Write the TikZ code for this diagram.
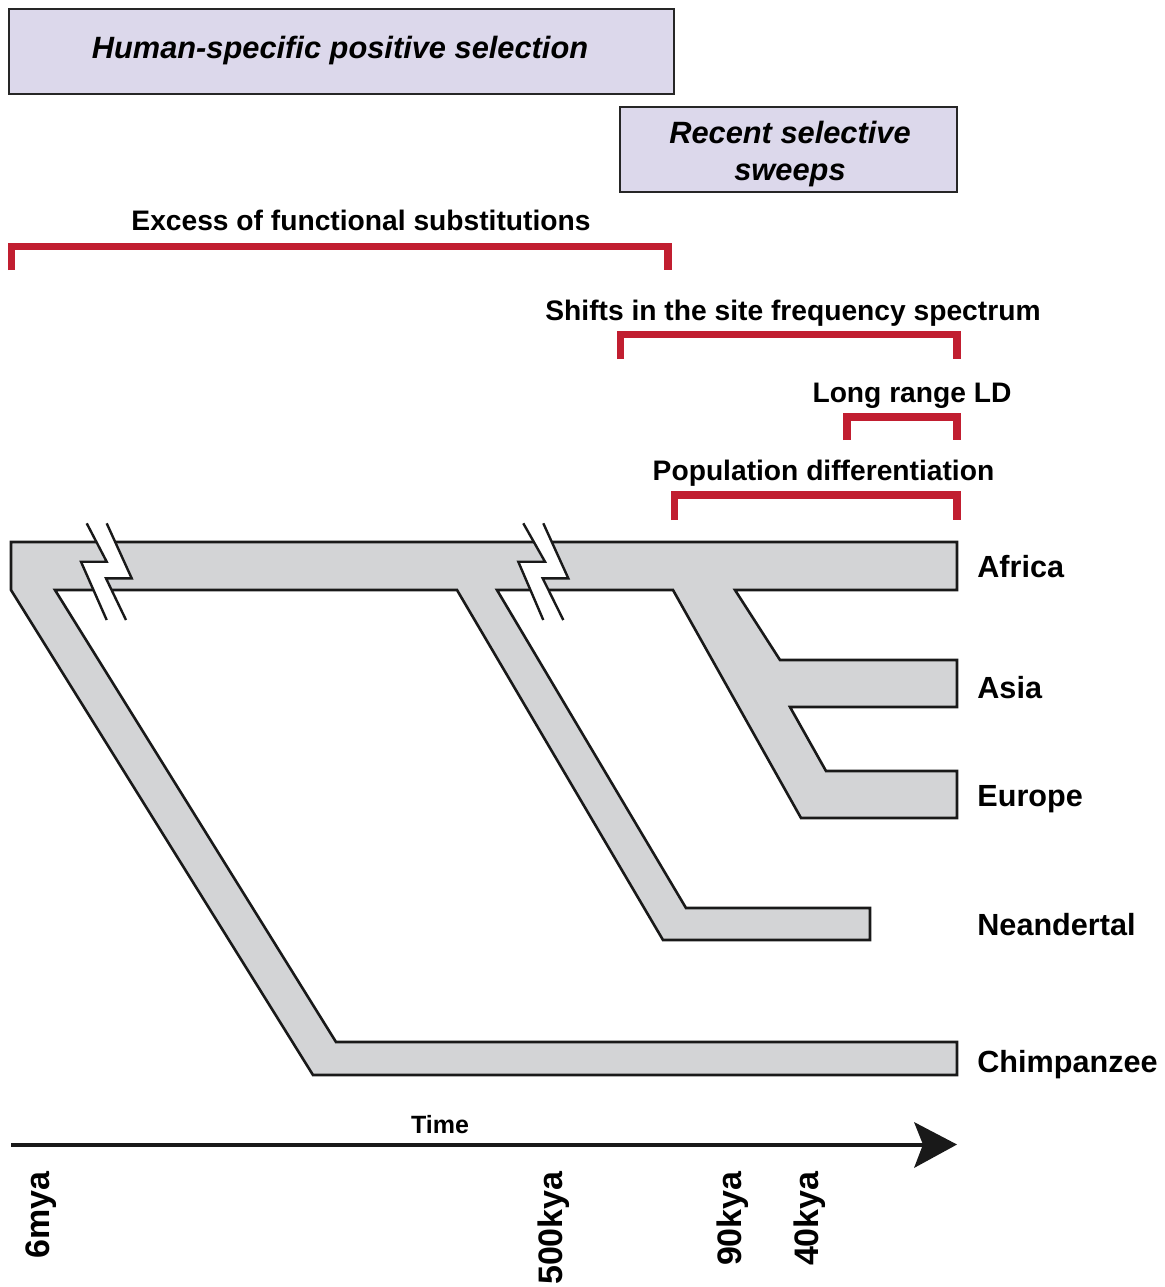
\documentclass[tikz,border=0pt]{standalone}
\usepackage{fontspec}
\setmainfont{Liberation Sans}
\definecolor{boxfill}{RGB}{220,216,235}
\definecolor{treefill}{RGB}{211,212,214}
\definecolor{bred}{RGB}{193,30,48}
\begin{document}
\begin{tikzpicture}[x=0.5pt,y=-0.5pt,
  lbl/.style={font=\fontsize{14.1}{17}\selectfont\bfseries, inner sep=0pt},
  slbl/.style={font=\fontsize{15.3}{18}\selectfont\bfseries, inner sep=0pt, anchor=base west},
  ilbl/.style={font=\fontsize{15.4}{19}\selectfont\bfseries\itshape, inner sep=0pt},
  axlbl/.style={font=\fontsize{17}{20}\selectfont\bfseries, inner sep=0pt, rotate=90, anchor=base east},
  bracket/.style={draw=bred, line width=3.6pt},
  tree/.style={fill=treefill, draw=black!90, line width=1.3pt, line join=miter},
  gapline/.style={draw=black!90, line width=1.2pt},
  selbox/.style={fill=boxfill, draw=black!85, line width=1.1pt}]
\useasboundingbox (0,0) rectangle (1165,1287);

% boxes
\draw[selbox] (9,9) rectangle (674,94);
\node[ilbl, anchor=base] (hps) at (340,58) {Human-specific positive selection};
\draw[selbox] (620,107) rectangle (957,192);
\node[ilbl, anchor=base] (rss1) at (790,143) {Recent selective};
\node[ilbl, anchor=base] (rss2) at (790,180) {sweeps};

% brackets
\node[lbl, anchor=base] (exc) at (361,230) {Excess of functional substitutions};
\draw[bracket] (11.5,270) -- (11.5,246.5) -- (668,246.5) -- (668,270);
\node[lbl, anchor=base] (sfs) at (793,320) {Shifts in the site frequency spectrum};
\draw[bracket] (620.5,359) -- (620.5,334.5) -- (957,334.5) -- (957,359);
\node[lbl, anchor=base] (ld) at (912,402) {Long range LD};
\draw[bracket] (847,440) -- (847,417) -- (957,417) -- (957,440);
\node[lbl, anchor=base] (pd) at (823.5,480) {Population differentiation};
\draw[bracket] (674.5,520) -- (674.5,495) -- (957,495) -- (957,520);

% tree
\draw[tree] (11,542) -- (957,542) -- (957,590) -- (735,590) -- (780,660) -- (957,660)
  -- (957,707) -- (790,707) -- (826,771) -- (957,771) -- (957,818) -- (801,818)
  -- (673,590) -- (497,590) -- (686,908) -- (870,908) -- (870,940) -- (663,940)
  -- (457,590) -- (55,590) -- (336,1042) -- (957,1042) -- (957,1075) -- (313,1075)
  -- (11,590) -- cycle;

% breaks
\fill[white] (86.7,523.3) -- (106.7,561.7) -- (81,561.7) -- (106.7,620) -- (126,620)
  -- (106,578.3) -- (131.7,578.3) -- (106.7,523.3) -- cycle;
\draw[gapline] (86.7,523.3) -- (106.7,561.7) -- (81,561.7) -- (106.7,620);
\draw[gapline] (106.7,523.3) -- (131.7,578.3) -- (106,578.3) -- (126,620);
\fill[white] (523.3,523.3) -- (545,561.7) -- (518.3,561.7) -- (543.3,620) -- (563.3,620)
  -- (542.7,578.3) -- (568.3,578.3) -- (543.3,523.3) -- cycle;
\draw[gapline] (523.3,523.3) -- (545,561.7) -- (518.3,561.7) -- (543.3,620);
\draw[gapline] (543.3,523.3) -- (568.3,578.3) -- (542.7,578.3) -- (563.3,620);

% species
\node[slbl] (afr) at (977,577) {Africa};
\node[slbl] (asi) at (977,698) {Asia};
\node[slbl] (eur) at (977,806) {Europe};
\node[slbl] (nea) at (977,935) {Neandertal};
\node[slbl] (chi) at (977,1072) {Chimpanzee};

% time axis
\coordinate (tstart) at (11,1145);
\coordinate (tend) at (924,1145);
\draw[line width=1.8pt, black!90] (tstart) -- (tend);
\fill[black!90] (957,1144.5) -- (914,1122) -- (923,1144.5) -- (914,1168) -- cycle;
\node[font=\fontsize{12.5}{15}\selectfont\bfseries, inner sep=0pt, anchor=base] (time) at (440,1133) {Time};

\node[axlbl] (m6) at (49,1171) {6mya};
\node[axlbl] (k500) at (562,1171) {500kya};
\node[axlbl] (k90) at (741,1171) {90kya};
\node[axlbl] (k40) at (818,1171) {40kya};
\end{tikzpicture}
\end{document}
